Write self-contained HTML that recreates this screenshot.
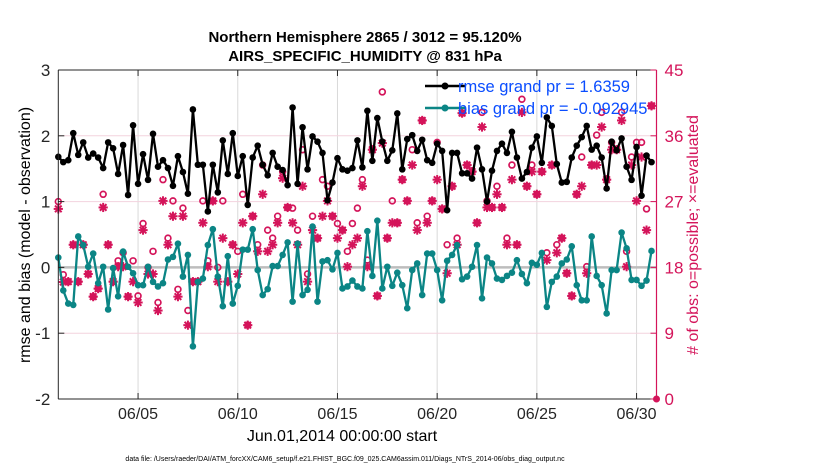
<!DOCTYPE html>
<html><head><meta charset="utf-8"><style>
html,body{margin:0;padding:0;background:#fff;}
svg{display:block;font-family:"Liberation Sans",Arial,sans-serif;}
</style></head><body>
<svg id="chart" width="830" height="470" viewBox="0 0 830 470" xmlns="http://www.w3.org/2000/svg">
<rect x="0" y="0" width="830" height="470" fill="#fff"/>
<text x="365" y="42" text-anchor="middle" font-size="15" font-weight="bold">Northern Hemisphere 2865 / 3012 = 95.120%</text>
<text x="365" y="61" text-anchor="middle" font-size="15" font-weight="bold">AIRS_SPECIFIC_HUMIDITY @ 831 hPa</text>
<g id="grid"></g>
<g id="marks"></g>
<g id="axes"></g>
<text transform="translate(30,235) rotate(-90)" text-anchor="middle" font-size="16">rmse and bias (model - observation)</text>
<text transform="translate(698,235) rotate(-90)" text-anchor="middle" font-size="16" fill="#d4145a"># of obs: o=possible; ×=evaluated</text>
<text x="342" y="441" text-anchor="middle" font-size="16">Jun.01,2014 00:00:00 start</text>
<text x="345" y="461" text-anchor="middle" font-size="7">data file: /Users/raeder/DAI/ATM_forcXX/CAM6_setup/f.e21.FHIST_BGC.f09_025.CAM6assim.011/Diags_NTrS_2014-06/obs_diag_output.nc</text>
<g>
<line x1="425" y1="86" x2="465" y2="86" stroke="#000" stroke-width="2.5"/>
<circle cx="445" cy="86" r="3.5" fill="#000"/>
<text x="458" y="92" font-size="16.5" fill="#0a4dff">rmse grand pr = 1.6359</text>
<line x1="425" y1="108" x2="465" y2="108" stroke="#0b8585" stroke-width="2.5"/>
<circle cx="445" cy="108" r="3.5" fill="#0b8585"/>
<text x="458" y="114" font-size="16.5" fill="#0a4dff">bias grand pr = -0.092945</text>
</g>
</svg>
<script>
const xTickLabels = ["06/05","06/10","06/15","06/20","06/25","06/30"];
const xTickDays = [4,9,14,19,24,29];
const yLeftTicks = [3,2,1,0,-1,-2];
const yRightTicks = [45,36,27,18,9,0];
const rmse = [1.68,1.60,1.63,2.04,1.71,1.90,1.67,1.73,1.67,1.51,1.90,1.81,1.42,1.86,1.10,2.16,1.27,1.72,1.33,2.03,1.53,1.63,1.51,1.24,1.69,1.45,1.12,2.40,1.56,1.56,0.85,1.56,1.14,1.93,1.42,2.04,1.39,1.69,0.95,1.67,1.85,1.56,1.40,1.74,1.53,1.48,1.25,2.43,1.27,2.13,1.49,1.99,1.91,1.74,1.02,1.29,1.66,1.49,1.47,1.51,1.93,
1.52,2.38,1.62,2.27,1.91,1.62,1.78,2.34,1.49,1.95,2.01,1.77,1.94,1.63,1.59,1.88,1.77,0.87,1.74,1.74,1.43,1.43,1.35,1.82,1.49,1.00,1.47,1.77,1.88,1.74,2.06,1.67,1.35,1.45,1.82,1.99,1.59,2.28,2.15,1.57,1.29,1.30,1.67,1.85,1.98,2.15,1.79,1.85,1.67,1.20,1.91,1.78,1.96,1.53,1.33,1.83,1.09,1.70,1.60];
const bias = [0.15,-0.35,-0.55,-0.57,0.47,0.34,0.01,0.21,-0.24,0.01,-0.64,-0.01,-0.44,0.24,0.01,-0.09,-0.27,-0.27,0.01,-0.22,-0.29,-0.24,0.12,0.16,0.36,-0.14,0.19,-1.20,-0.22,-0.17,0.34,0.58,-0.14,-0.59,0.17,-0.55,-0.28,0.27,0.27,0.58,-0.04,-0.42,-0.33,0.02,0.02,0.19,0.38,-0.52,0.36,-0.42,-0.34,0.62,-0.52,0.09,0.11,-0.03,0.22,-0.32,-0.29,-0.20,-0.29,
-0.32,0.55,-0.13,0.71,-0.32,0.01,-0.28,-0.08,-0.27,-0.62,-0.04,0.06,-0.42,0.21,0.21,-0.04,-0.50,0.10,0.19,0.34,-0.18,-0.14,0.01,0.34,-0.47,0.15,0.06,-0.17,-0.19,-0.13,-0.08,0.11,-0.10,-0.24,0.07,0.04,0.22,-0.60,-0.22,-0.14,0.06,0.12,0.32,-0.27,-0.50,-0.50,0.47,-0.13,-0.27,-0.70,-0.04,-0.04,0.53,0.29,-0.19,-0.19,-0.28,-0.20,0.25];
const obsEvaluated = [26,16,16.05,21.1,16.05,21.1,17.1,14.0,15.1,26.2,21.1,16.05,18.1,18.1,14.0,16.05,13.2,23.1,17.1,17.1,12.1,27.1,21.1,25.0,14.0,25.0,10.1,16.05,16.05,24.1,18.1,27.1,16.05,22.0,16.05,21.1,17.1,24.1,10.1,25.0,20.2,28.0,20.2,21.1,24.1,30.2,26.2,24.1,21.1,29.1,16.05,23.1,22.0,25.0,27.1,25.0,22.0,23.1,18.1,21.1,22.0,
29.1,18.1,34.1,14.1,35.0,22.0,24.1,24.1,30.0,27.1,32.0,23.1,38.1,24.1,27.1,30.0,26,17.2,29.1,21.1,39.1,32.0,31.1,24.1,37.2,26.2,26.2,28.0,26.2,21.1,30.0,21.1,39.2,29.1,31.1,28.0,31.1,19.0,32.0,20.0,22,17.2,14.1,28.0,29.1,17.2,32.0,32.0,37.2,30.0,34.1,34.1,38.1,18.1,32.0,27.1,33.1,23.1,40.1];
const obsPossible = [27,17,16.05,21.1,16.05,21.1,17.1,14.0,15.1,28,21.1,16.05,18.9,20,14.0,18.9,14.1,24,18,20.2,13.2,30,22,27.1,15,26.1,12.1,16.05,16.05,27.1,18.9,27.1,18,27.1,16.05,21.1,20.2,28,10.1,25.0,21.1,32,23.1,22,25,31.1,26.2,26.1,23.1,34.1,17.1,25,22.0,30,29.1,25.0,24,23.1,20.2,24,26.1,
30,19,34.1,14.1,42,22.0,27.1,24.1,30.0,27.1,34.1,24.1,38.1,25,27.1,35.1,26,21.1,29.1,22,39.1,32.0,31.1,24.1,39.2,27.1,26.2,29.1,26.2,22,32,21.1,41,29.1,32,28.0,31.1,20,32.0,21.1,22,17.2,14.1,28.0,33.1,18.1,32.0,36.1,39.2,30.0,35.1,34.1,39.2,20.2,33.1,35.1,35.1,26,40.1];

const NS="http://www.w3.org/2000/svg";
const L=58.3,R=656.5,T=70,B=399;
const X=d=>L+(d/30)*(R-L);
const Y=v=>T+(3-v)/5*(B-T);
const YR=c=>B-(c/45)*(B-T);
const MAG="#d4145a";
function mk(tag,attrs,parent){const e=document.createElementNS(NS,tag);for(const k in attrs)e.setAttribute(k,attrs[k]);parent.appendChild(e);return e;}
const grid=document.getElementById('grid'),marks=document.getElementById('marks'),axes=document.getElementById('axes');

xTickDays.forEach((d,i)=>{
  const g=mk('line',{x1:X(d),x2:X(d),y1:T,y2:B,stroke:'#d9d9d9','stroke-width':1},grid);
  
  
});
yRightTicks.forEach(c=>{
  if(c===0||c===45||c===18)return;
  const g=mk('line',{x1:L,x2:R,y1:YR(c),y2:YR(c),stroke:'#f3d3de','stroke-width':1},grid);
  
  
});
const zl=mk('line',{x1:L,x2:R,y1:Y(0),y2:Y(0),stroke:'#bdbdbd','stroke-width':2.5},grid);



function star(cx,cy,s,parent){
  const g=mk('g',{stroke:MAG,'stroke-width':2},parent);
  
  
  mk('line',{x1:cx-s,x2:cx+s,y1:cy,y2:cy},g);
  mk('line',{x1:cx,x2:cx,y1:cy-s,y2:cy+s},g);
  const d=s*0.72;
  mk('line',{x1:cx-d,x2:cx+d,y1:cy-d,y2:cy+d},g);
  mk('line',{x1:cx-d,x2:cx+d,y1:cy+d,y2:cy-d},g);
}
obsEvaluated.forEach((c,i)=>star(X(i*0.25),YR(c),4.6,marks));
obsPossible.forEach((c,i)=>{
  const e=mk('circle',{cx:X(i*0.25),cy:YR(c),r:2.9,fill:'none',stroke:MAG,'stroke-width':1.7},marks);
  
  
});
function series(vals,color,name){
  const pts=vals.map((v,i)=>X(i*0.25).toFixed(2)+','+Y(v).toFixed(2)).join(' ');
  const pl=mk('polyline',{points:pts,fill:'none',stroke:color,'stroke-width':2.3,'stroke-linejoin':'round'},marks);
  
  
  vals.forEach((v,i)=>{
    const c=mk('circle',{cx:X(i*0.25),cy:Y(v),r:3.3,fill:color},marks);
    
    
  });
}
series(bias,'#0b8585','bias');
series(rmse,'#000000','rmse');

const topBorder=mk('line',{x1:L,x2:R,y1:T,y2:T,stroke:'#262626','stroke-width':1},axes);


const bottomAxis=mk('line',{x1:L,x2:R,y1:B,y2:B,stroke:'#262626','stroke-width':1},axes);


const leftAxis=mk('line',{x1:L,x2:L,y1:T,y2:B,stroke:'#262626','stroke-width':1},axes);


const rightAxis=mk('line',{x1:R,x2:R,y1:T,y2:B,stroke:MAG,'stroke-width':1.2},axes);



xTickDays.forEach((d,i)=>{
  mk('line',{x1:X(d),x2:X(d),y1:B,y2:B-6,stroke:'#262626'},axes);
  mk('line',{x1:X(d),x2:X(d),y1:T,y2:T+6,stroke:'#262626'},axes);
  const t=mk('text',{x:X(d),y:B+20,'text-anchor':'middle','font-size':16,fill:'#262626'},axes);
  t.textContent=xTickLabels[i];
  
  
});
yLeftTicks.forEach(v=>{
  mk('line',{x1:L,x2:L+6,y1:Y(v),y2:Y(v),stroke:'#262626'},axes);
  const t=mk('text',{x:L-8,y:Y(v)+6,'text-anchor':'end','font-size':17,fill:'#262626'},axes);
  t.textContent=String(v);
  
  
});
yRightTicks.forEach(c=>{
  mk('line',{x1:R,x2:R-6,y1:YR(c),y2:YR(c),stroke:MAG},axes);
  const t=mk('text',{x:R+8,y:YR(c)+6,'text-anchor':'start','font-size':17,fill:MAG},axes);
  t.textContent=String(c);
  
  
});
const zeroMarker=mk('circle',{cx:R,cy:B,r:3.5,fill:MAG},axes);


</script>
</body></html>
